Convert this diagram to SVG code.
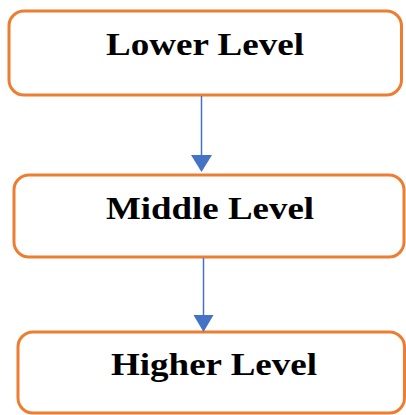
<svg xmlns="http://www.w3.org/2000/svg" width="406" height="415" viewBox="0 0 406 415">
<defs>
<style>
.box{fill:#fff;stroke:#ED7D31;stroke-width:3}
.lbl{font-family:"Liberation Serif","Times New Roman",serif;font-weight:bold;font-size:32px;fill:#000}
.conn{stroke:#4472C4;stroke-width:1.5;fill:none}
.head{fill:#4472C4}
</style>
</defs>
<rect width="406" height="415" fill="#fff"/>
<g id="lower">
<rect class="box" x="9" y="11" width="392.5" height="84" rx="15"/>
<text class="lbl" x="106" y="55" textLength="198" lengthAdjust="spacingAndGlyphs">Lower Level</text>
</g>
<g id="middle">
<rect class="box" x="14" y="175" width="390" height="82" rx="15"/>
<text class="lbl" x="106" y="219" textLength="208" lengthAdjust="spacingAndGlyphs">Middle Level</text>
</g>
<g id="higher">
<rect class="box" x="18" y="332" width="386.5" height="81" rx="15"/>
<text class="lbl" x="111" y="375" textLength="206" lengthAdjust="spacingAndGlyphs">Higher Level</text>
</g>
<g id="connectors">
<line class="conn" x1="201.5" y1="96" x2="201.5" y2="156"/>
<polygon class="head" points="191,155 212,155 201.5,172"/>
<line class="conn" x1="203.5" y1="258" x2="203.5" y2="316"/>
<polygon class="head" points="193.5,315 213.5,315 203.5,332"/>
</g>
</svg>
